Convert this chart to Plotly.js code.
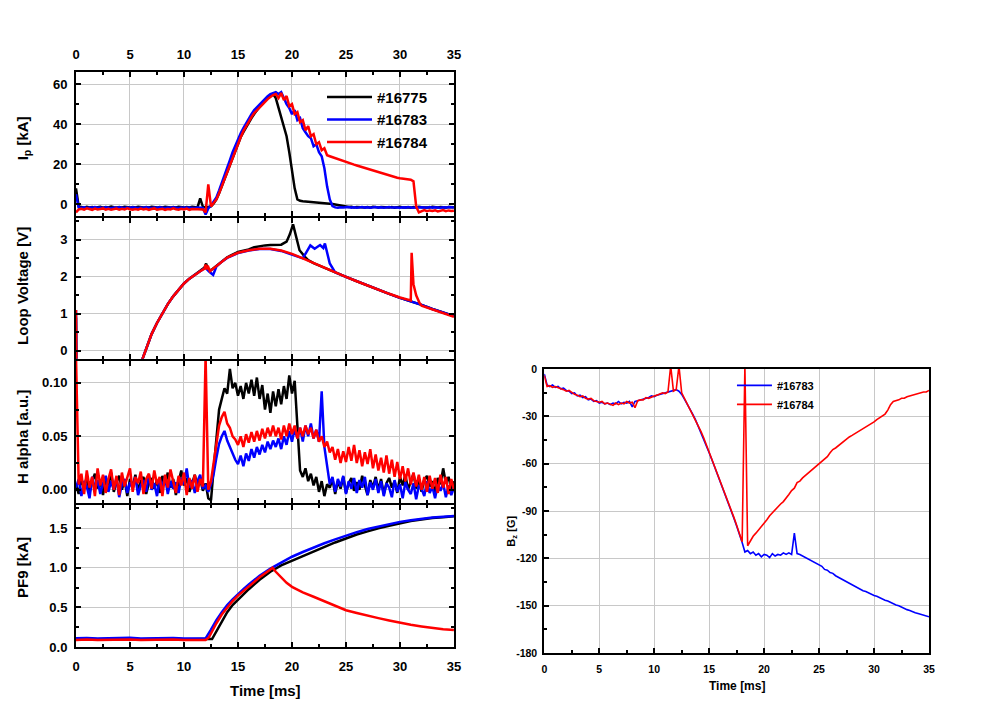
<!DOCTYPE html>
<html><head><meta charset="utf-8">
<script src="https://cdn.plot.ly/plotly-3.0.1.min.js"></script>
<style>html,body{margin:0;padding:0;background:#fff}#chart{width:1007px;height:719px}</style>
</head><body><div id="chart"></div><script>
// ---------- DATA ----------
const shots = ['#16775', '#16783', '#16784'];
const xTicks = [0, 5, 10, 15, 20, 25, 30, 35];

// common 0.25 ms time base (one row per ms)
const T = [
0,0.25,0.5,0.75, 1,1.25,1.5,1.75, 2,2.25,2.5,2.75, 3,3.25,3.5,3.75, 4,4.25,4.5,4.75,
5,5.25,5.5,5.75, 6,6.25,6.5,6.75, 7,7.25,7.5,7.75, 8,8.25,8.5,8.75, 9,9.25,9.5,9.75,
10,10.25,10.5,10.75, 11,11.25,11.5,11.75, 12,12.25,12.5,12.75, 13,13.25,13.5,13.75, 14,14.25,14.5,14.75,
15,15.25,15.5,15.75, 16,16.25,16.5,16.75, 17,17.25,17.5,17.75, 18,18.25,18.5,18.75, 19,19.25,19.5,19.75,
20,20.25,20.5,20.75, 21,21.25,21.5,21.75, 22,22.25,22.5,22.75, 23,23.25,23.5,23.75, 24,24.25,24.5,24.75,
25,25.25,25.5,25.75, 26,26.25,26.5,26.75, 27,27.25,27.5,27.75, 28,28.25,28.5,28.75, 29,29.25,29.5,29.75,
30,30.25,30.5,30.75, 31,31.25,31.5,31.75, 32,32.25,32.5,32.75, 33,33.25,33.5,33.75, 34,34.25,34.5,34.75,
35];

// Plasma current Ip [kA]
const ip16775 = [
8,-1.0,-1.3,-1.6, -1.2,-1.5,-1.3,-1.7, -1.4,-1.2,-1.6,-1.3, -1.5,-1.1,-1.4,-1.6, -1.3,-1.5,-1.2,-1.4,
-1.6,-1.3,-1.5,-1.2, -1.4,-1.6,-1.3,-1.5, -1.2,-1.4,-1.6,-1.3, -1.5,-1.2,-1.4,-1.6, -1.3,-1.5,-1.2,-1.4,
-1.6,-1.3,-1.5,-1.2, -1.4,-1.5,3.0,-1.2, -1.5,-1.4,-1.0,0.5, 2.5,5.5,9,13, 16.5,20,24,27.5,
30.5,33.5,36,38.5, 41,43,45,47, 49,50.5,52,53, 54.5,55,53,48, 43,39,34,26,
17,8,2.5,1.8, 1.6,1.5,1.3,1.2, 1.1,1.0,0.9,0.8, 0.7,0.5,0.4,0.2, 0.0,-0.3,-0.6,-0.9,
-1.1,-1.3,-1.2,-1.5, -1.3,-1.4,-1.2,-1.5, -1.3,-1.6,-1.2,-1.4, -1.5,-1.3,-1.4,-1.2, -1.5,-1.3,-1.6,-1.4,
-1.2,-1.5,-1.3,-1.4, -1.6,-1.3,-1.5,-1.2, -1.4,-1.5,-1.3,-1.6, -1.2,-1.4,-1.5,-1.3, -1.4,-1.6,-1.3,-1.5,
-1.4];
const ip16783 = [
5,-1.5,-1.7,-1.4, -1.8,-1.5,-1.6,-1.3, -1.7,-1.5,-1.8,-1.4, -1.6,-1.9,-1.5,-1.7, -1.4,-1.6,-1.8,-1.5,
-1.7,-1.4,-1.6,-1.8, -1.5,-1.7,-1.4,-1.6, -1.8,-1.5,-1.7,-1.4, -1.6,-1.8,-1.5,-1.7, -1.4,-1.6,-1.8,-1.5,
-1.7,-1.5,-1.6,-1.4, -1.8,-1.5,-1.6,-1.8, -5,-2.0,-0.5,1.5, 3.5,7,10.5,14.5, 18,22,26,29.5,
32.5,35.5,38,40.5, 43,45,47,48.5, 50,51.5,53,54, 55,55.5,56,55, 56,53,50,48,
45,47,42,43, 38,36,34,33, 29,30,26,24, 18,9,2.5,-0.8, -1.5,-1.7,-1.4,-1.6,
-1.5,-1.3,-1.6,-1.4, -1.7,-1.5,-1.3,-1.6, -1.4,-1.7,-1.5,-1.3, -1.6,-1.4,-1.7,-1.5, -1.3,-1.6,-1.4,-1.5,
-1.7,-1.4,-1.6,-1.3, -1.5,-1.7,-1.4,-1.6, -1.4,-1.5,-1.7,-1.3, -1.6,-1.4,-1.5,-1.7, -1.4,-1.6,-1.3,-1.5,
-1.5];
const ip16784 = [
-4,-2.5,-2.2,-2.6, -2.0,-2.4,-2.7,-2.1, -2.5,-2.3,-2.0,-2.6, -2.2,-2.7,-2.4,-2.1, -2.6,-2.2,-2.5,-2.0,
-2.4,-2.7,-2.3,-2.6, -2.1,-2.5,-2.2,-2.7, -2.3,-2.0,-2.6,-2.4, -2.2,-2.7,-2.3,-2.5, -2.0,-2.4,-2.6,-2.2,
-2.5,-2.1,-2.7,-2.3, -2.4,-2.2,-2.6,-2.5, -4,10,-1,0.5, 2.5,5.5,9,13, 16.5,20.5,24,27.5,
30.5,33.5,36.5,39, 41.5,43.5,45.5,47, 48.5,50,51.5,52.5, 53.5,54.5,55,53, 55.5,52,54,49,
50,45,46,41, 42,37,39,34, 35,30,31,27, 28,24.5,24,23.5, 23,22.5,22,21.5,
21,20.6,20.2,19.8, 19.4,19,18.5,18, 17.5,17,16.6,16.2, 15.8,15.4,15,14.6, 14.2,13.9,13.6,13.3,
13,12.8,12.6,12.4, 12.3,11.5,-1,-4, -3.2,-2.8,-3.4,-3.0, -3.3,-2.9,-3.5,-3.1, -2.8,-3.4,-3.0,-3.3,
-3.1];

// Loop voltage [V]
const lvTime16775 = [0,0.05,6,6.5,7,7.5,8,8.5,9,9.5,10,10.5,11,11.5,11.9,12.05,12.2,12.5,13,13.5,
14,15,16,16.5,17,17.5,18,18.5,19,19.5,19.8,20.1,20.4,20.7,21.2,21.5,22,23,24,25,
26,27,28,29,30,31,32,33,34,35];
const lv16775 = [0.9,-1,-0.35,0.05,0.45,0.75,1.02,1.26,1.47,1.66,1.82,1.95,2.06,2.15,2.25,2.36,2.2,2.18,2.3,2.42,
2.53,2.67,2.74,2.8,2.83,2.85,2.86,2.86,2.87,2.95,3.15,3.42,3.1,2.72,2.54,2.45,2.37,2.24,2.12,2.0,
1.88,1.76,1.65,1.54,1.43,1.34,1.24,1.13,1.03,0.94];
const lvTime16783 = [0,0.05,6,6.5,7,7.5,8,8.5,9,9.5,10,10.5,11,11.5,12,12.3,12.7,13,13.5,14,
15,16,17,18,19,20,21,21.3,21.7,22.1,22.6,22.9,23.05,23.5,24,25,26,27,28,29,
30,31,32,33,34,35];
const lv16783 = [1.1,-1,-0.35,0.05,0.45,0.75,1.02,1.26,1.47,1.66,1.82,1.95,2.06,2.15,2.25,2.15,2.05,2.28,2.41,2.51,
2.64,2.71,2.75,2.75,2.70,2.61,2.5,2.65,2.85,2.76,2.86,2.78,2.9,2.36,2.12,2.0,1.88,1.76,1.65,1.54,
1.43,1.34,1.24,1.13,1.03,0.94];
const lvTime16784 = [0,0.05,6,6.5,7,7.5,8,8.5,9,9.5,10,10.5,11,11.5,11.9,12.0,12.1,12.2,12.4,12.7,
13,13.5,14,15,16,17,18,19,20,21,22,23,24,25,26,27,28,29,30,31,
31.08,31.15,31.25,31.5,31.8,32,33,34,35];
const lv16784 = [1.1,-1,-0.35,0.05,0.45,0.75,1.02,1.26,1.47,1.66,1.82,1.95,2.06,2.15,2.22,2.33,2.2,2.3,2.15,2.22,
2.3,2.42,2.52,2.65,2.72,2.76,2.76,2.71,2.62,2.5,2.37,2.24,2.12,2.0,1.88,1.76,1.65,1.54,1.44,1.36,
2.65,2.3,1.8,1.5,1.3,1.22,1.12,1.02,0.92];

// H alpha [a.u.]
const ha16775 = [
.005,-.004,.010,.002, .012,-.003,.008,.015, .001,.009,-.005,.011, .004,.016,-.002,.007, .013,.000,.009,-.006,
.010,.003,.014,-.001, .008,.012,-.004,.006, .011,.001,.009,-.003, .013,.005,.016,.002, .010,-.005,.008,.018,
.004,.011,-.002,.007, .014,.003,.010,-.001, .006,-.008,-.010,.020, .050,.075,.085,.095, .090,.113,.095,.100,
.088,.097,.085,.100, .090,.103,.088,.105, .085,.098,.075,.090, .072,.092,.078,.094, .080,.097,.085,.107,
.090,.102,.060,.018, .012,.020,.008,.015, .004,.012,-.002,.008, -.006,.005,.002,.010, -.004,.008,.001,.012,
-.003,.006,.011,-.001, .007,.000,.013,.003, -.005,.009,.002,.012, .000,.010,-.004,.006, .011,.002,.008,-.003,
.012,.004,.014,.000, .007,.015,.001,.010, -.002,.009,.013,.003, .008,-.004,.011,.005, .020,.006,.012,.001,
.008];
const ha16783 = [
.002,.010,-.006,.008, .003,-.008,.012,.001, .009,-.004,.006,.013, -.002,.008,.000,.011, -.007,.005,.010,-.003,
.007,.001,.012,-.005, .004,.009,-.002,.014, .000,.006,-.006,.010, .003,.012,-.004,.008, .001,.007,-.003,.011,
.005,.020,.002,.009, -.003,.008,.014,.001, .004,-.002,.005,.015, .030,.043,.050,.055, .046,.040,.033,.028,
.024,.032,.022,.034, .027,.038,.030,.040, .033,.042,.035,.045, .038,.046,.040,.048, .038,.050,.042,.055,
.045,.057,.048,.058, .045,.060,.050,.062, .048,.056,.045,.092, .040,.020,.005,.012, -.002,.010,.003,.013,
-.004,.008,.001,.011, -.003,.009,.002,.012, -.005,.007,.000,.010, -.003,.008,-.006,.006, .002,-.007,.009,-.002,
.005,-.008,.007,.000, -.004,.006,-.009,.004, .001,-.006,.008,-.003, .003,-.008,.005,-.001, .006,-.007,.004,-.005,
.002];
const ha16784 = [
.125,.005,.015,-.004, .018,.002,.012,-.006, .020,.004,.014,-.003, .010,.019,.000,.013, -.005,.016,.003,.011,
.020,-.002,.012,.006, .017,-.004,.010,.015, .001,.018,.005,.012, -.006,.014,.002,.019, .007,-.003,.013,.004,
.016,-.005,.011,.001, .014,-.002,.010,.003, .125,.000,.008,.025, .045,.060,.068,.073, .062,.058,.050,.047,
.042,.050,.040,.052, .044,.054,.045,.055, .046,.057,.048,.058, .050,.060,.050,.058, .047,.060,.050,.062,
.052,.060,.048,.058, .050,.060,.052,.058, .048,.056,.045,.050, .040,.045,.035,.040, .028,.038,.025,.036,
.026,.040,.027,.042, .025,.037,.022,.035, .024,.038,.020,.033, .018,.030,.016,.032, .015,.028,.012,.026,
.010,.022,.008,.020, .005,.016,.003,.014, .000,.012,-.002,.013, .001,.011,-.003,.014, .002,.012,-.004,.010,
.000];

// PF9 coil current [kA]
const pfTime16775 = [0,1,2,3,4,5,6,7,8,9,10,11,12,12.6,13,13.5,14,14.5,15,15.5,16,
17,18,19,20,21,22,23,24,25,26,27,28,29,30,31,32,33,34,35];
const pf16775 = [0.10,0.105,0.098,0.103,0.1,0.106,0.099,0.104,0.1,0.105,0.098,0.103,0.1,0.1,0.2,0.33,0.44,0.53,0.6,0.67,0.73,
0.85,0.95,1.03,1.09,1.15,1.21,1.27,1.32,1.37,1.42,1.46,1.5,1.53,1.56,1.59,1.61,1.63,1.64,1.65];
const pfTime16783 = [0,1,2,3,4,5,6,7,8,9,10,11,12,12.5,13,13.5,14,14.5,15,15.5,16,
17,18,19,20,21,22,23,24,25,26,27,28,29,30,31,32,33,34,35];
const pf16783 = [0.11,0.115,0.108,0.113,0.11,0.116,0.109,0.114,0.11,0.115,0.108,0.113,0.11,0.22,0.34,0.44,0.53,0.6,0.67,0.73,0.79,
0.9,0.99,1.07,1.14,1.2,1.26,1.31,1.36,1.41,1.45,1.49,1.52,1.55,1.58,1.6,1.62,1.635,1.645,1.655];
const pfTime16784 = [0,1,2,3,4,5,6,7,8,9,10,11,12,12.3,12.6,13,13.5,14,14.5,15,15.5,16,17,18,18.2,18.5,19,19.5,20,
21,22,23,24,25,26,27,28,29,30,31,32,33,34,35];
const pf16784 = [0.09,0.095,0.088,0.093,0.09,0.096,0.089,0.094,0.09,0.095,0.088,0.093,0.09,0.12,0.2,0.3,0.41,0.5,0.58,0.65,0.71,0.77,0.88,0.98,1.0,0.95,0.88,0.81,0.76,
0.69,0.635,0.58,0.52,0.465,0.43,0.395,0.365,0.335,0.305,0.28,0.26,0.24,0.225,0.215];

// Bz [G]
const bz16783 = [
-3,-10,-11,-10, -11.5,-11,-12.5,-12, -13.5,-14,-15.5,-15, -17,-16.5,-18,-17.5, -19.5,-19,-20.5,-20,
-21.5,-21,-22,-21.5, -22.5,-21.5,-22,-20.5, -22,-21,-21.5,-20.5, -24,-20.5,-20,-19.5, -19,-18.5,-18,-17,
-17.5,-16.5,-16,-15.5, -15,-14.5,-14,-13.5, -13,-14,-16,-19, -22,-25,-28.5,-32, -36,-40,-44,-48.5,
-53,-57.5,-62,-67, -72,-76,-81,-85.5, -90,-94.5,-99.5,-104.5, -110,-116,-115,-117, -116,-118,-117,-119,
-117.5,-118,-119.5,-117, -118.5,-117.5,-118,-116.5, -117.5,-116.5,-117.5,-104, -117,-117.5,-118.5,-119.5, -120.5,-121.5,-122.5,-123,
-124.5,-125,-127,-127.5, -129,-129.5,-131,-132, -133,-134,-135,-135.5, -137,-137.5,-138.5,-139.5, -140.5,-141,-142,-142.5,
-143.5,-144,-145,-145.5, -146.5,-147,-148,-148.5, -149.5,-150,-151,-151.5, -152.5,-153,-154,-154.5, -155,-155.5,-156,-156.5,
-157];
const bz16784 = [
-4,-11,-10.5,-11.5, -11,-12,-12.5,-13, -14,-13.5,-15,-16, -16.5,-17.5,-17,-18.5, -19,-18.5,-20,-20.5,
-21,-20.5,-22,-21.5, -22,-23,-21.5,-22.5, -21.5,-22,-20.5,-21.5, -21,-24.5,-20,-19.5, -19.5,-18,-18.5,-17.5,
-17,-16.5,-16,-15, -15.5,-14.5,2,-14, -13,2,-15,-18.5, -21.5,-25,-28,-31.5, -35.5,-39.5,-43.5,-48,
-52.5,-57,-61.5,-66.5, -71.5,-75.5,-80.5,-85, -89.5,-94,-99,-104, -109.5,2,-112,-109, -106,-104,-102,-99.5,
-97.5,-95.5,-93,-91, -89.5,-87.5,-85.5,-84, -82,-79.5,-77,-75.5, -72,-71,-69,-67.5, -66,-65,-63,-62,
-60,-58.5,-57,-55.5, -53,-51,-50,-48.5, -47,-46,-44.5,-43, -42,-41,-40,-39, -37.5,-36.5,-35.5,-34.5,
-33.5,-32,-31,-30, -28.5,-26,-22.5,-20.5, -20,-19.5,-18.5,-18.5, -17.5,-17,-16.5,-16, -15.5,-15,-14.5,-14.5,
-13.5];

// ---------- STYLE ----------
const colors = ['#000000', '#0000ff', '#ff0000'];
const FAM = 'Liberation Sans, Arial, sans-serif';
const bold = (s) => ({family: FAM, size: s, color: '#000', weight: 'bold'});

const traces = [];
function add(x, y, xa, ya, i, opts) {
  traces.push(Object.assign({
    type: 'scatter', mode: 'lines', x: x, y: y, xaxis: xa, yaxis: ya,
    name: shots[i], line: {color: colors[i], width: 2.5}, showlegend: false, hoverinfo: 'skip'
  }, opts || {}));
}
// panel 1 Ip
add(T, ip16775, 'x', 'y', 0, {showlegend: true, legend: 'legend'});
add(T, ip16783, 'x', 'y', 1, {showlegend: true, legend: 'legend'});
add(T, ip16784, 'x', 'y', 2, {showlegend: true, legend: 'legend'});
// panel 2 loop voltage
add(lvTime16775, lv16775, 'x2', 'y2', 0);
add(lvTime16783, lv16783, 'x2', 'y2', 1);
add(lvTime16784, lv16784, 'x2', 'y2', 2);
// panel 3 H alpha
add(T, ha16775, 'x3', 'y3', 0);
add(T, ha16783, 'x3', 'y3', 1);
add(T, ha16784, 'x3', 'y3', 2);
// panel 4 PF9
add(pfTime16775, pf16775, 'x4', 'y4', 0);
add(pfTime16783, pf16783, 'x4', 'y4', 1);
add(pfTime16784, pf16784, 'x4', 'y4', 2);
// right panel Bz
add(T, bz16783, 'x5', 'y5', 1, {showlegend: true, legend: 'legend2', line: {color: colors[1], width: 1.6}});
add(T, bz16784, 'x5', 'y5', 2, {showlegend: true, legend: 'legend2', line: {color: colors[2], width: 1.6}});

const GRID = '#c8c8c8';
function xAxis(anchor, domain, extra) {
  return Object.assign({
    anchor: anchor, domain: domain, range: [0, 35], tickvals: xTicks, ticktext: xTicks.map(String),
    ticks: 'inside', ticklen: 5, tickwidth: 2, tickcolor: '#000',
    minor: {ticks: 'inside', ticklen: 3, tickwidth: 2, tickcolor: '#000', dtick: 2.5, tick0: 0, showgrid: false},
    showline: true, linewidth: 2, linecolor: '#000', mirror: 'allticks',
    showgrid: true, gridcolor: GRID, gridwidth: 1, zeroline: false, fixedrange: true,
    showticklabels: false, tickfont: bold(13), ticklabelstandoff: 4
  }, extra || {});
}
function yAxis(anchor, domain, range, vals, texts, minorDt, extra) {
  return Object.assign({
    anchor: anchor, domain: domain, range: range, tickvals: vals, ticktext: texts,
    ticks: 'inside', ticklen: 5, tickwidth: 2, tickcolor: '#000',
    minor: {ticks: 'inside', ticklen: 3, tickwidth: 2, tickcolor: '#000', dtick: minorDt, tick0: 0, showgrid: false},
    showline: true, linewidth: 2, linecolor: '#000', mirror: 'allticks',
    showgrid: true, gridcolor: GRID, gridwidth: 1, zeroline: false, fixedrange: true,
    tickfont: bold(13), ticklabelstandoff: 4
  }, extra || {});
}
const LD = [0, 0.4431];
const layout = {
  width: 1007, height: 719,
  margin: {l: 76, r: 78, t: 72, b: 66, pad: 0},
  paper_bgcolor: '#fff', plot_bgcolor: '#fff',
  font: {family: FAM, color: '#000'},
  hovermode: false,
  xaxis: xAxis('y', LD, {side: 'top', showticklabels: true, ticklabelstandoff: 6}),
  xaxis2: xAxis('y2', LD),
  xaxis3: xAxis('y3', LD),
  xaxis4: xAxis('y4', LD, {showticklabels: true, ticklabelstandoff: 6}),
  xaxis5: xAxis('y5', [0.549, 1], {showticklabels: true, mirror: true, tickfont: bold(10.5), ticklabelstandoff: 5}),
  yaxis: yAxis('x', [0.7514, 1], [-6, 66], [0, 20, 40, 60], ['0', '20', '40', '60'], 10),
  yaxis2: yAxis('x2', [0.5063, 0.7480], [-0.22, 3.58], [0, 1, 2, 3], ['0', '1', '2', '3'], 0.5),
  yaxis3: yAxis('x3', [0.2577, 0.5028], [-0.0127, 0.1206], [0, 0.05, 0.1], ['0.00', '0.05', '0.10'], 0.025),
  yaxis4: yAxis('x4', [0.0103, 0.2543], [0, 1.79], [0, 0.5, 1, 1.5], ['0.0', '0.5', '1.0', '1.5'], 0.25),
  yaxis5: yAxis('x5', [0, 0.4886], [-180, 0], [-180, -150, -120, -90, -60, -30, 0],
    ['-180', '-150', '-120', '-90', '-60', '-30', '0'], 15,
    {mirror: true, tickfont: bold(10.5), ticklabelstandoff: 3}),
  legend: {x: 0.2884, y: 0.985, xanchor: 'left', yanchor: 'top', bgcolor: 'rgba(0,0,0,0)',
    borderwidth: 0, font: bold(15), itemwidth: 45, tracegroupgap: 0},
  legend2: {x: 0.769, y: 0.4856, xanchor: 'left', yanchor: 'top', bgcolor: 'rgba(0,0,0,0)',
    borderwidth: 0, font: bold(11), itemwidth: 35, tracegroupgap: 0},
  annotations: [
    {text: 'I<sub>p</sub> [kA]', xref: 'paper', yref: 'paper', x: -0.062, y: 0.886, textangle: -90, showarrow: false, font: bold(15), xanchor: 'center', yanchor: 'middle'},
    {text: 'Loop Voltage [V]', xref: 'paper', yref: 'paper', x: -0.062, y: 0.632, textangle: -90, showarrow: false, font: bold(15), xanchor: 'center', yanchor: 'middle'},
    {text: 'H alpha [a.u.]', xref: 'paper', yref: 'paper', x: -0.062, y: 0.3721, textangle: -90, showarrow: false, font: bold(15), xanchor: 'center', yanchor: 'middle'},
    {text: 'PF9 [kA]', xref: 'paper', yref: 'paper', x: -0.062, y: 0.1467, textangle: -90, showarrow: false, font: bold(15), xanchor: 'center', yanchor: 'middle'},
    {text: 'Time [ms]', xref: 'paper', yref: 'paper', x: 0.2227, y: -0.0643, showarrow: false, font: bold(15), xanchor: 'center', yanchor: 'middle'},
    {text: 'Time [ms]', xref: 'paper', yref: 'paper', x: 0.775, y: -0.0575, showarrow: false, font: bold(12), xanchor: 'center', yanchor: 'middle'},
    {text: 'B<sub>z</sub> [G]', xref: 'paper', yref: 'paper', x: 0.511, y: 0.2104, textangle: -90, showarrow: false, font: bold(11), xanchor: 'center', yanchor: 'middle'}
  ]
};
Plotly.newPlot('chart', traces, layout, {staticPlot: true, displayModeBar: false});
</script></body></html>
